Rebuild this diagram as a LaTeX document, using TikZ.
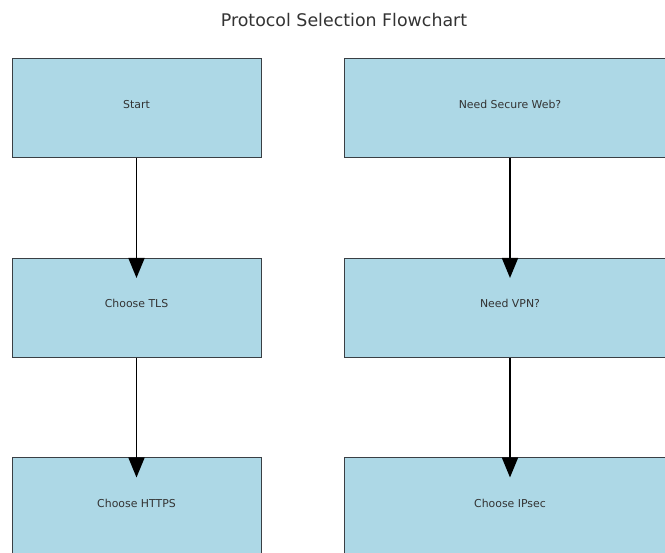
\documentclass[tikz,border=0pt]{standalone}
\usepackage{fontspec}
\setmainfont{DejaVu Sans}
\usetikzlibrary{arrows.meta,positioning,calc}
\definecolor{ink}{HTML}{333333}
\definecolor{edge}{HTML}{3A3F44}
\definecolor{sky}{HTML}{ADD8E6}

\tikzset{
  stepbox/.style={
    rectangle,
    fill=sky,
    draw=edge,
    line width=1pt,
    text=ink,
    font=\fontsize{10.9}{12}\selectfont,
    text height=3pt,
    text depth=3pt,
    minimum height=99pt,
    inner sep=0pt
  },
  flow/.style={
    -{Triangle[length=20pt,width=16pt]},
    line width=1.8pt,
    shorten >=-20pt
  }
}

\begin{document}
\begin{tikzpicture}[x=1pt,y=-1pt]
        \useasboundingbox (0,0) rectangle (665,553);
        \node[text=ink,font=\fontsize{17.4}{20}\selectfont] (title) at (344,20) {Protocol Selection Flowchart};

        % left column
        \node[stepbox,minimum width=249pt] (start) at (136.5,108.5) {Start};
        \node[stepbox,minimum width=249pt] (tls) at (136.5,308) {Choose TLS};
        \node[stepbox,minimum width=249pt] (https) at (136.5,507.5) {Choose HTTPS};

        % right column
        \node[stepbox,minimum width=332pt] (secure) at (510,108.5) {Need Secure Web?};
        \node[stepbox,minimum width=332pt] (vpn) at (510,308) {Need VPN?};
        \node[stepbox,minimum width=332pt] (ipsec) at (510,507.5) {Choose IPsec};

        \draw[flow] (start) -- (tls);
        \draw[flow] (tls) -- (https);
        \draw[flow] (secure) -- (vpn);
        \draw[flow] (vpn) -- (ipsec);
      \end{tikzpicture}
\end{document}
